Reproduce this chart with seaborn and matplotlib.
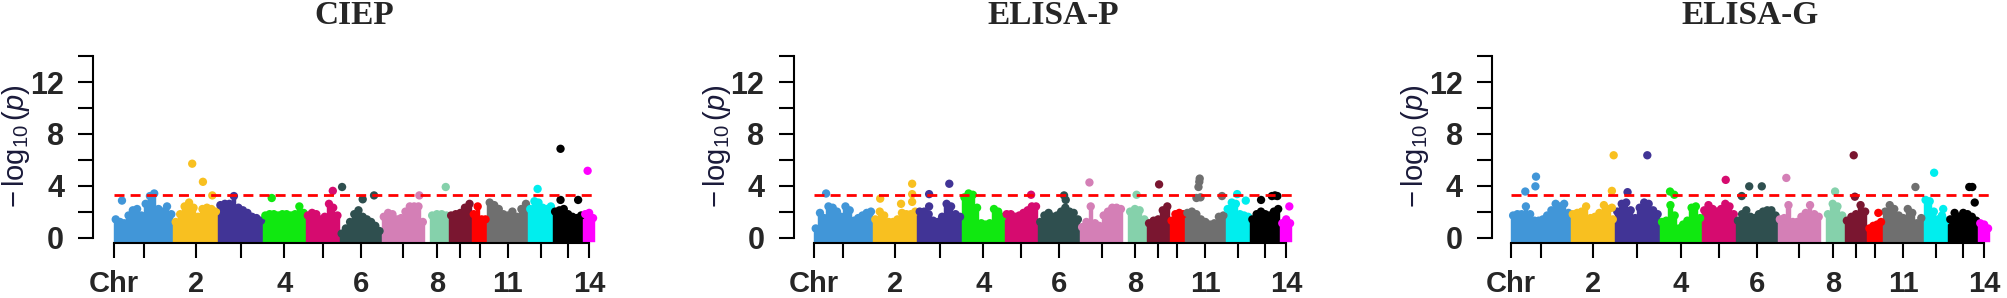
"""
Manhattan plots for three traits (CIEP, ELISA-P, ELISA-G)
"""

import numpy as np
import pandas as pd
import matplotlib
matplotlib.use('Agg')
import matplotlib.pyplot as plt
import seaborn as sns

sns.set_style("white")
plt.rcParams['font.family'] = ['Liberation Sans', 'DejaVu Sans']
plt.rcParams['mathtext.fontset'] = 'custom'
plt.rcParams['mathtext.rm'] = 'Liberation Sans'
plt.rcParams['mathtext.it'] = 'Liberation Sans:italic'

nan = np.nan

# ---- data ----
TRAITS = ['CIEP', 'ELISA-P', 'ELISA-G']
CHR_LEN = [138, 103, 104, 98, 78, 97, 100, 55, 53, 36, 94, 57, 70, 27]
CHR_COLORS = ['#4196d8', '#f8c020', '#413496', '#10e810', '#d60b6f', '#2f4f4f', '#d47fb6',
              '#85d1ab', '#7a1630', '#ff0000', '#6f6f6f', '#00eeee', '#000000', '#ff00ff']
TICK_LABELS = ['Chr', '', '2', '', '4', '', '6', '', '8', '', '', '11', '', '', '14']
THRESHOLD = 3.3

# upper edge of the dense SNP cloud, sampled evenly along each chromosome
CIEP_TOPS = [
    [1.4, 1.2, 1.1, 1.7, 2.1, 2.2, 1.7, 2.6, 3.2, 3.4, 2.2, 2.0, 2.4, 1.8],
    [1.2, 1.8, 2.4, 2.7, 2.3, 1.6, 2.2, 2.3, 2.2, 2.0],
    [2.5, 2.6, 2.6, 3.2, 2.3, 2.1, 1.9, 1.6, 1.5, 1.3],
    [1.7, 1.8, 1.8, 1.7, 1.8, 1.8, 1.7, 1.8, 2.4, 1.9],
    [1.7, 1.9, 1.8, 1.4, 1.6, 2.6, 2.3, 1.7],
    [0.3, 0.7, 1.2, 1.8, 2.1, 1.6, 1.4, 1.2, 0.9, 0.5],
    [1.6, 1.9, 1.8, 1.4, 1.5, 2.0, 2.4, 2.4, 2.4, 1.2],
    [nan, 1.7, 1.8, 1.8, 1.7],
    [1.7, 1.8, 1.9, 2.3, 2.6],
    [1.8, 2.4, 1.4, 1.4],
    [2.7, 2.5, 2.2, 1.8, 1.7, 2.0, 1.6, 2.2, 2.6],
    [2.2, 2.8, 2.7, 2.3, 2.2, 2.4],
    [2.0, 2.1, 2.2, 1.8, 1.6, 1.5, 1.7],
    [1.8, 1.9, 1.5],
]
ELISA_P_TOPS = [
    [0.7, 1.9, 1.5, 2.4, 2.3, 2.0, 1.6, 2.4, 2.1, 1.3, 1.5, 1.7, 1.9, 2.0],
    [1.4, 2.0, 1.7, 1.2, 1.2, 1.4, 1.9, 1.8, 1.8, 2.0],
    [2.0, 2.0, 1.8, 1.3, 1.2, 1.6, 2.6, 2.4, 1.8, 1.6],
    [3.1, 3.4, 3.3, 2.3, 1.1, 1.0, 1.1, 2.2, 2.0, 1.6],
    [1.8, 1.8, 1.6, 1.7, 1.9, 2.1, 2.4, 2.4],
    [1.2, 1.7, 1.9, 1.6, 1.7, 2.0, 2.3, 2.0, 1.9, 1.4],
    [0.8, 1.2, 2.4, 1.1, 0.9, 1.7, 2.0, 2.3, 2.3, 2.2],
    [nan, 2.0, 2.2, 2.1, 1.4],
    [1.1, 1.3, 1.4, 2.1, 2.4],
    [1.3, 1.8, 1.9, 1.8],
    [1.9, 2.0, 1.8, 1.4, 1.2, 1.0, 1.1, 1.6, 1.7],
    [2.2, 2.7, 2.6, 1.8, 1.7, 1.6],
    [1.4, 1.8, 2.0, 1.8, 1.7, 2.0, 2.2],
    [1.1, 1.4, 1.1],
]
ELISA_G_TOPS = [
    [1.7, 1.8, 1.8, 2.4, 1.8, 1.3, 1.3, 1.4, 1.7, 2.1, 2.6, 2.4, 2.6, 1.9],
    [1.8, 1.9, 2.0, 2.4, 1.5, 1.6, 1.9, 2.5, 2.2, 1.4],
    [2.0, 2.6, 2.7, 2.1, 1.5, 2.3, 2.7, 2.6, 2.1, 1.8],
    [1.2, 1.3, 2.5, 1.7, 0.7, 1.0, 1.3, 2.3, 2.4, 1.5],
    [2.1, 2.5, 2.2, 2.0, 2.2, 2.6, 2.4, 1.8],
    [1.3, 1.8, 2.1, 1.6, 1.5, 1.8, 2.0, 2.1, 2.1, 1.7],
    [1.4, 1.5, 2.5, 1.2, 1.2, 1.6, 1.9, 2.5, 1.8, 1.6],
    [nan, 1.8, 2.6, 2.4, 1.7],
    [1.3, 1.6, 1.8, 2.5, 2.0],
    [0.7, 0.9, 1.0, 1.2],
    [2.0, 2.5, 2.2, 1.7, 1.5, 2.2, 1.9, 1.1, 1.5],
    [2.9, 2.8, 2.0, 1.4, 1.7, 1.3],
    [1.4, 1.9, 1.6, 1.9, 1.8, 1.6, 1.3],
    [1.1, 1.0, 0.7],
]

# isolated SNPs above the cloud: (chromosome, relative position, -log10 p)
CIEP_HITS = [(1, 0.14, 2.85), (2, 0.42, 5.7), (2, 0.66, 4.3), (2, 0.87, 3.25), (4, 0.2, 3.05),
             (5, 0.8, 3.6), (6, 0.06, 3.9), (6, 0.55, 2.95), (6, 0.82, 3.25), (7, 0.87, 3.25),
             (8, 0.87, 3.9), (12, 0.38, 3.75), (13, 0.25, 6.85), (13, 0.25, 2.9), (13, 0.83, 2.9),
             (14, 0.37, 5.15)]
ELISA_P_HITS = [(1, 0.21, 3.4), (2, 0.16, 3.0), (2, 0.63, 2.6), (2, 0.88, 2.75), (2, 0.88, 3.35),
                (2, 0.88, 4.15), (3, 0.26, 2.4), (3, 0.26, 3.35), (3, 0.71, 4.15), (5, 0.79, 3.3),
                (6, 0.62, 3.25), (6, 0.66, 2.9), (7, 0.22, 4.25), (8, 0.57, 3.3), (9, 0.54, 4.1),
                (11, 0.28, 3.05), (11, 0.33, 3.9), (11, 0.35, 4.3), (11, 0.36, 4.55), (11, 0.38, 3.1),
                (11, 0.91, 3.2), (12, 0.47, 3.35), (12, 0.82, 2.85), (13, 0.36, 2.9), (13, 0.72, 3.2),
                (13, 0.82, 3.25), (13, 0.9, 3.2), (14, 0.77, 2.4)]
ELISA_G_HITS = [(1, 0.24, 3.55), (1, 0.41, 3.95), (1, 0.42, 4.7), (2, 0.93, 3.6), (2, 0.93, 2.3),
                (2, 0.97, 6.35), (3, 0.28, 3.5), (3, 0.72, 6.35), (4, 0.24, 3.55), (4, 0.34, 3.3),
                (5, 0.7, 4.45), (6, 0.14, 3.2), (6, 0.32, 3.95), (6, 0.62, 3.95), (7, 0.2, 4.6),
                (8, 0.6, 3.55), (9, 0.4, 6.35), (9, 0.45, 3.15), (10, 0.7, 1.9), (11, 0.8, 3.9),
                (12, 0.43, 5.0), (12, 0.8, 2.2), (13, 0.7, 3.9), (13, 0.8, 3.9), (13, 0.88, 2.7)]

ALL_TOPS = [CIEP_TOPS, ELISA_P_TOPS, ELISA_G_TOPS]
ALL_HITS = [CIEP_HITS, ELISA_P_HITS, ELISA_G_HITS]

# ---- layout (pixels) ----
W, H = 2007, 298
PANEL_BOX = [(113.6, 595.0, 93.2), (813.6, 1292.0, 793.6), (1511.0, 1990.0, 1492.0)]
Y0_PX, YTOP_PX = 237.5, 56.2
PT = 72 / 100  # points per pixel

chr_start = np.concatenate([[0], np.cumsum(CHR_LEN)[:-1]])
chr_mid = chr_start + np.array(CHR_LEN) / 2
genome_len = float(np.sum(CHR_LEN))
palette = {i + 1: c for i, c in enumerate(CHR_COLORS)}


def cloud_frame(tops):
    rows = []
    for c, vals in enumerate(tops):
        step = CHR_LEN[c] / len(vals)
        for i, v in enumerate(vals):
            rows.append((c + 1, chr_start[c] + (i + 0.5) * step, v, step))
    return pd.DataFrame(rows, columns=['chrom', 'pos', 'logp', 'width']).dropna()


def hits_frame(hits):
    df = pd.DataFrame(hits, columns=['chrom', 'frac', 'logp'])
    df['pos'] = chr_start[df['chrom'] - 1] + df['frac'] * np.array(CHR_LEN)[df['chrom'] - 1]
    return df


fig = plt.figure(figsize=(W / 100, H / 100), dpi=100)
r = 4.0 / ((Y0_PX - YTOP_PX) / 14)  # marker radius in data units

for trait, tops, hits, (left, right, yax) in zip(TRAITS, ALL_TOPS, ALL_HITS, PANEL_BOX):
    ax = fig.add_axes([left / W, (H - Y0_PX) / H, (right - left) / W, (Y0_PX - YTOP_PX) / H])
    cloud = cloud_frame(tops)
    pts = hits_frame(hits)

    # dense SNP mass
    ax.bar(cloud['pos'], cloud['logp'] + r, width=cloud['width'], bottom=-r,
           color=[palette[c] for c in cloud['chrom']], edgecolor=[palette[c] for c in cloud['chrom']],
           linewidth=0.3, clip_on=False, zorder=1)
    sns.scatterplot(data=cloud, x='pos', y='logp', hue='chrom', palette=palette, s=36,
                    linewidth=0, legend=False, ax=ax, clip_on=False, zorder=2)
    sns.scatterplot(data=pts, x='pos', y='logp', hue='chrom', palette=palette, s=36,
                    linewidth=0, legend=False, ax=ax, clip_on=False, zorder=2)

    ax.axhline(THRESHOLD, color='#ff0000', lw=2.0, linestyle=(0, (3.6, 2.2)), zorder=3)

    ax.set_xlim(0, genome_len)
    ax.set_ylim(0, 14)
    ax.set_xlabel('')
    ax.set_ylabel('')
    for s in ['top', 'right']:
        ax.spines[s].set_visible(False)
    ax.spines['left'].set_position(('outward', (left - yax) * PT))
    ax.spines['left'].set_bounds(0, 14)
    ax.spines['bottom'].set_position(('outward', 5.8 * PT))
    ax.spines['bottom'].set_bounds(0, chr_mid[-1])
    for s in ['left', 'bottom']:
        ax.spines[s].set_linewidth(1.5)
        ax.spines[s].set_color('black')

    ax.set_xticks(np.concatenate([[0], chr_mid]))
    ax.set_xticklabels(TICK_LABELS, fontweight='bold', fontsize=21)
    ax.set_yticks(range(0, 15, 2))
    ax.set_yticklabels(['0', '', '4', '', '8', '', '12', ''], fontweight='bold', fontsize=22)
    ax.tick_params(axis='both', direction='out', length=11, width=1.5, color='black',
                   bottom=True, left=True)
    ax.tick_params(axis='y', pad=10)
    ax.tick_params(axis='x', pad=8)

    fig.text((yax - 77) / W, 1 - 146 / H, r'$-\,\log_{10}(p)$', rotation=90,
             ha='center', va='center', fontsize=21, color='#1a1a3a')
    fig.text((left + right) / 2 / W, 1 - 16 / H, trait, ha='center', va='center',
             fontfamily='Liberation Serif', fontweight='bold', fontsize=24)

plt.savefig('out.png', dpi=100)
plt.close()
